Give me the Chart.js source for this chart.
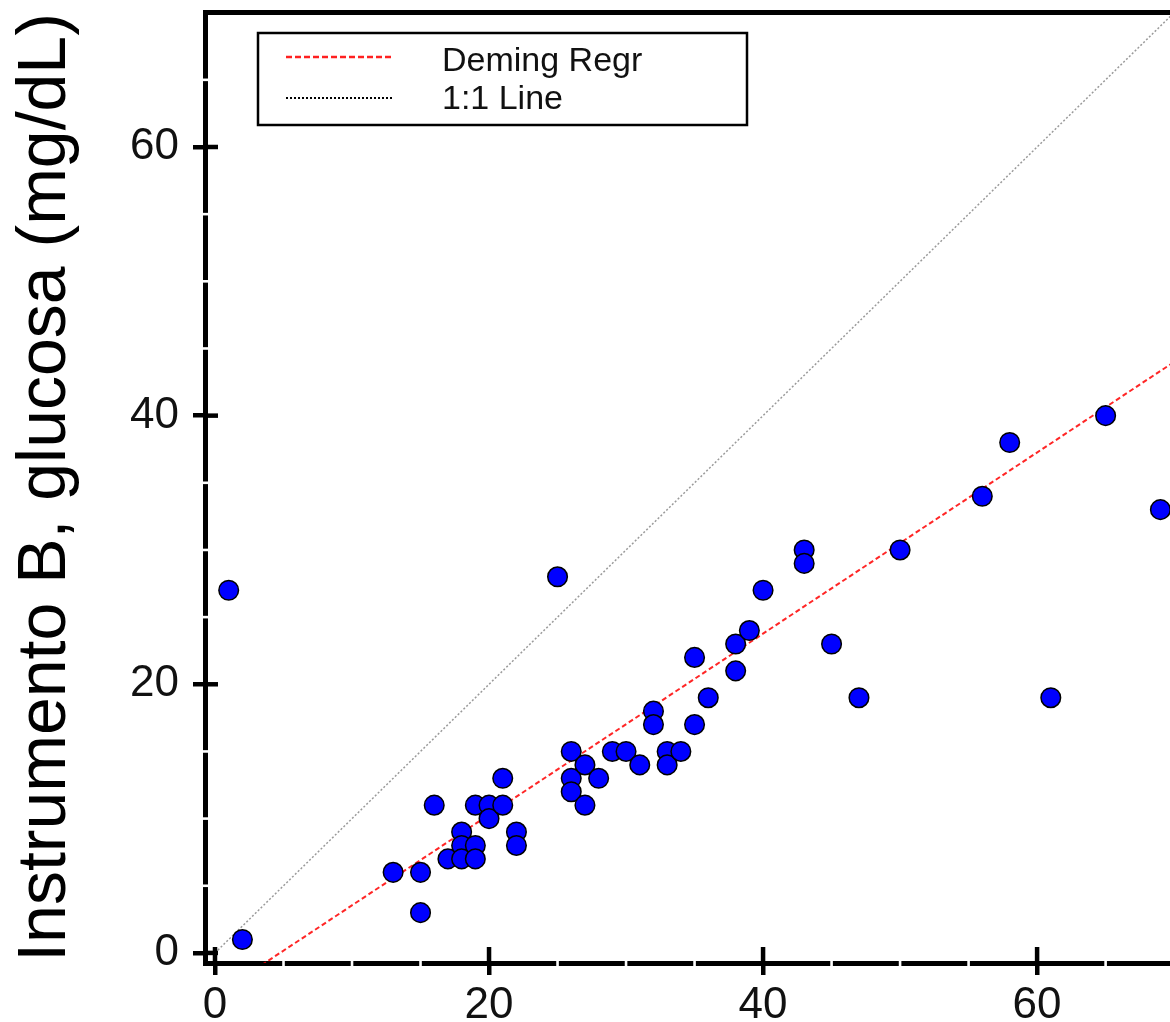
<!DOCTYPE html>
<html>
<head>
<meta charset="utf-8">
<script src="https://cdn.jsdelivr.net/npm/chart.js@4.4.1/dist/chart.umd.min.js"></script>
<style>
  html, body { margin: 0; padding: 0; background: #fff; }
  canvas { display: block; }
</style>
</head>
<body>
<canvas id="glucoseChart" width="1170" height="1022"></canvas>
<script>
// Instrumento A (x) vs Instrumento B (y), glucosa mg/dL
var xValues = [1, 2, 13, 15, 15, 16, 17, 18, 18, 18, 19, 19, 19, 20, 20, 21, 21, 22, 22, 25,
               26, 26, 26, 27, 27, 28, 29, 30, 31, 32, 32, 33, 33, 34, 35, 35, 36, 38, 38, 39,
               40, 43, 43, 45, 47, 50, 56, 58, 61, 65, 69];
var yValues = [27, 1, 6, 6, 3, 11, 7, 9, 8, 7, 11, 8, 7, 11, 10, 11, 13, 9, 8, 28,
               15, 13, 12, 14, 11, 13, 15, 15, 14, 18, 17, 15, 14, 15, 22, 17, 19, 23, 21, 24,
               27, 30, 29, 23, 19, 30, 34, 38, 19, 40, 33];

// line end points (x) and their y values
var lineX = [0, 70];
var demingY = [-3.2, 44.0];
var identityY = [0, 70];

var xTicks = [0, 20, 40, 60];
var yTicks = [0, 20, 40, 60];
var legendLabels = ["Deming Regr", "1:1 Line"];
var yTitle = "Instrumento B, glucosa (mg/dL)";

var xMin = -0.73, xMax = 69.7;
var yMin = -0.75, yMax = 70.05;

function pairs(xs, ys) {
    return xs.map(function (x, i) { return { x: x, y: ys[i] }; });
}

// inward half of the major ticks + small gaps in the axis lines at minor steps
var axisDetails = {
    id: "axisDetails",
    afterDraw: function (chart) {
        var ctx = chart.ctx;
        var area = chart.chartArea;
        var sx = chart.scales.x, sy = chart.scales.y;
        ctx.save();
        ctx.strokeStyle = "#000";
        ctx.lineWidth = 4.5;
        xTicks.forEach(function (v) {
            var px = sx.getPixelForValue(v);
            ctx.beginPath();
            ctx.moveTo(px, area.bottom);
            ctx.lineTo(px, area.bottom - 16);
            ctx.stroke();
        });
        yTicks.forEach(function (v) {
            var py = sy.getPixelForValue(v);
            ctx.beginPath();
            ctx.moveTo(area.left, py);
            ctx.lineTo(area.left + 13, py);
            ctx.stroke();
        });
        ctx.fillStyle = "#fff";
        for (var v = 5; v < 70; v += 5) {
            if (v % 20 === 0) continue;
            var px = sx.getPixelForValue(v);
            ctx.fillRect(px - 1.3, area.bottom - 4, 2.6, 8);
            var py = sy.getPixelForValue(v);
            ctx.fillRect(area.left - 4, py - 1.3, 8, 2.6);
        }
        ctx.restore();
    }
};

// boxed legend inside the plot, top left
var boxLegend = {
    id: "boxLegend",
    afterDraw: function (chart) {
        var ctx = chart.ctx;
        var sets = chart.data.datasets.filter(function (d) { return d.legendColor; });
        ctx.save();
        ctx.fillStyle = "#fff";
        ctx.fillRect(258, 33, 489, 92);
        ctx.strokeStyle = "#000";
        ctx.lineWidth = 2.5;
        ctx.strokeRect(258, 33, 489, 92);
        sets.forEach(function (d, i) {
            var ly = 57 + i * 41;
            ctx.strokeStyle = d.legendColor;
            ctx.lineWidth = d.legendWidth;
            ctx.setLineDash(d.legendDash);
            ctx.beginPath();
            ctx.moveTo(286, ly);
            ctx.lineTo(394, ly);
            ctx.stroke();
            ctx.setLineDash([]);
            ctx.fillStyle = "#111";
            ctx.font = "34px 'Liberation Sans', Arial, sans-serif";
            ctx.textBaseline = "alphabetic";
            ctx.textAlign = "left";
            ctx.fillText(d.label, 442, 71 + i * 38);
        });
        ctx.restore();
    }
};

var ctx = document.getElementById("glucoseChart");
var myChart = new Chart(ctx, {
    type: "scatter",
    data: {
        datasets: [
            {
                label: "Datos",
                data: pairs(xValues, yValues),
                backgroundColor: "#0000ff",
                borderColor: "#000",
                borderWidth: 1.5,
                pointRadius: 9.8,
                pointHoverRadius: 9.8,
                order: 0
            },
            {
                label: legendLabels[0],
                data: pairs(lineX, demingY),
                showLine: true,
                borderColor: "rgba(255,0,0,0.85)",
                borderWidth: 2,
                borderDash: [5, 3],
                pointRadius: 0,
                legendColor: "#ff2020",
                legendWidth: 2.5,
                legendDash: [6, 3],
                order: 1
            },
            {
                label: legendLabels[1],
                data: pairs(lineX, identityY),
                showLine: true,
                borderColor: "#9a9a9a",
                borderWidth: 1.5,
                borderDash: [2, 2],
                pointRadius: 0,
                legendColor: "#000",
                legendWidth: 2,
                legendDash: [2, 2],
                order: 2
            }
        ]
    },
    options: {
        responsive: false,
        animation: false,
        devicePixelRatio: 1,
        layout: { padding: 0, autoPadding: false },
        plugins: {
            legend: { display: false },
            tooltip: { enabled: false }
        },
        scales: {
            x: {
                type: "linear",
                position: "bottom",
                min: xMin,
                max: xMax,
                afterFit: function (s) {
                    s.height = 59;
                    s.paddingLeft = 0;
                    s.paddingRight = 0;
                },
                afterBuildTicks: function (s) {
                    s.ticks = xTicks.map(function (v) { return { value: v }; });
                },
                grid: {
                    drawOnChartArea: false,
                    drawTicks: true,
                    tickLength: 12,
                    lineWidth: 4.5,
                    color: "#000",
                    tickColor: "#000"
                },
                border: { display: true, width: 5, color: "#000" },
                ticks: {
                    padding: 4,
                    color: "#111",
                    maxRotation: 0,
                    font: { family: "'Liberation Sans', Arial, sans-serif", size: 44 }
                }
            },
            xTop: {
                type: "linear",
                position: "top",
                min: xMin,
                max: xMax,
                afterFit: function (s) {
                    s.height = 12;
                    s.paddingLeft = 0;
                    s.paddingRight = 0;
                },
                grid: { display: false },
                border: { display: true, width: 5, color: "#000" },
                ticks: { display: false }
            },
            y: {
                type: "linear",
                position: "left",
                min: yMin,
                max: yMax,
                afterFit: function (s) {
                    s.width = 205;
                    s.paddingTop = 0;
                    s.paddingBottom = 0;
                },
                afterBuildTicks: function (s) {
                    s.ticks = yTicks.map(function (v) { return { value: v }; });
                },
                grid: {
                    drawOnChartArea: false,
                    drawTicks: true,
                    tickLength: 12,
                    lineWidth: 4.5,
                    color: "#000",
                    tickColor: "#000"
                },
                border: { display: true, width: 5, color: "#000" },
                ticks: {
                    padding: 14,
                    color: "#111",
                    font: { family: "'Liberation Sans', Arial, sans-serif", size: 44 }
                },
                title: {
                    display: true,
                    text: yTitle,
                    color: "#000",
                    padding: { top: 5, bottom: 0 },
                    font: { family: "'Liberation Sans', Arial, sans-serif", size: 68, lineHeight: 1.2 }
                }
            }
        }
    },
    plugins: [axisDetails, boxLegend]
});
</script>
</body>
</html>
